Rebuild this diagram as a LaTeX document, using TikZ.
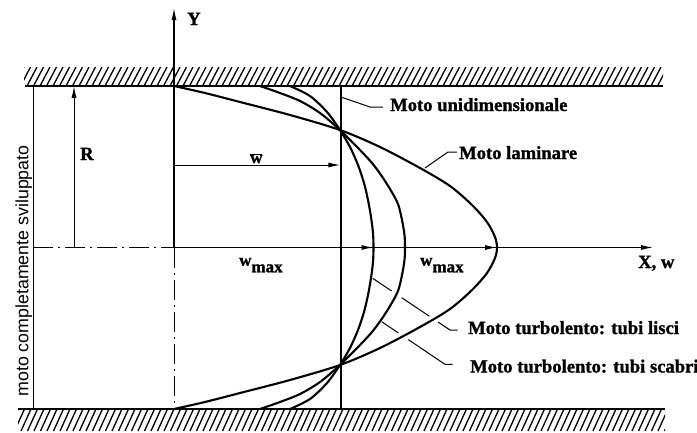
\documentclass[tikz,border=0pt]{standalone}
\usepackage{fontspec}
\setmainfont{Liberation Serif}[BoldFeatures={FakeBold=1.2}]
\setsansfont{Liberation Sans}
\usetikzlibrary{arrows.meta,calc}
\begin{document}
\begin{tikzpicture}[x=1pt,y=-1pt,
  wall/.style={line width=2pt},
  hatchline/.style={line width=1.3pt},
  curve/.style={line width=2.1pt, line join=round},
  axis/.style={line width=1.1pt},
  thinline/.style={line width=1pt},
  leader/.style={line width=1pt},
  dashdot/.style={line width=1pt, dash pattern=on 20pt off 5pt on 2pt off 5pt},
  arr/.style={-{Latex[length=12pt,width=5pt]}},
  lbl/.style={font=\fontsize{18.6}{20}\selectfont\bfseries, inner sep=0pt},
  sym/.style={font=\fontsize{17}{20}\selectfont\bfseries, inner sep=0pt},
]
\useasboundingbox (0,0) rectangle (697,432);

% hatching
\begin{scope}
  \clip (24,67) rectangle (663,86);
  \foreach \x in {14,20.5,...,670} \draw[hatchline] (\x,86) -- (\x+10,67);
\end{scope}
\begin{scope}
  \clip (18,409) rectangle (665,431);
  \foreach \x in {8,14.5,...,670} \draw[hatchline] (\x,431) -- (\x+10,409);
\end{scope}
\draw[wall] (25,86) -- (663,86);
\draw[wall] (18,409) -- (665,409);

% coordinates
\coordinate (O) at (174,247.5);
\coordinate (Ytop) at (174,8);
\coordinate (Ybot) at (174,409);
\coordinate (Xend) at (653,247.5);
\coordinate (Lft) at (33,247.5);
\coordinate (Lt) at (33,86);
\coordinate (Lb) at (33,409);
\coordinate (Rb) at (74,247.5);
\coordinate (Rt) at (74,86);
\coordinate (Ut) at (341,86);
\coordinate (Ub) at (341,409);
\coordinate (Wb) at (174,165);
\coordinate (We) at (340.3,165);
\coordinate (Av) at (373.5,247.5);
\coordinate (Lv) at (497,247.5);

% axes and lines
\draw[axis,arr] (O) -- (Ytop);
\draw[dashdot] (O) -- (Ybot);
\draw[dashdot] (Lft) -- (O);
\draw[axis,arr] (O) -- (Xend);
\draw[axis,arr] (O) -- (Av);
\draw[axis,arr] (O) -- (Lv);
\draw[thinline] (Lt) -- (Lb);
\draw[thinline,arr] (Rb) -- (Rt);
\draw[line width=1.4pt] (Ut) -- (Ub);
\draw[thinline,arr] (Wb) -- (We);

% profiles
\draw[curve] plot[smooth] coordinates {(174,86) (205,93) (240,102) (290,115) (340,130) (380,147) (420,168) (450,186) (472,205) (487,222) (495,237) (497,247.5) (495,258) (487,273) (472,290) (450,309) (420,327) (380,348) (340,365) (290,380) (240,393) (205,402) (174,409)};
\draw[curve] plot[smooth] coordinates {(290,86) (310,96) (327,112) (340,130) (350,147) (358,165) (364,183) (368,200) (371,217) (373,233) (373.5,247.5) (373,262) (371,278) (368,295) (364,312) (358,330) (350,348) (340,365) (327,383) (310,399) (290,409)};
\draw[curve] plot[smooth] coordinates {(260,86) (280,93) (300,101) (320,113) (340,130) (360,150) (372,163) (381,175) (390,189) (398,204) (402,220) (404.5,235) (405,247.5) (404.5,260) (402,275) (398,291) (390,306) (381,320) (372,332) (360,345) (340,365) (320,382) (300,394) (280,402) (260,409)};

% labels
\node[lbl, anchor=base west] (Y) at (187,25) {Y};
\node[lbl, anchor=base west] (R) at (80,160) {R};
\node[sym, anchor=base west] (wbar) at (250,163) {$\overline{\mbox{w}}$};
\node[sym, anchor=base west] (wm1) at (239,265.7) {w\raisebox{-6.6pt}{max}};
\node[sym, anchor=base west] (wm2) at (420,265.7) {w\raisebox{-6.6pt}{max}};
\node[lbl, anchor=base west] (X) at (638,268) {X, w};
\node[rotate=90, anchor=base, inner sep=0pt, font=\sffamily\fontsize{17.8}{20}\selectfont] (side) at (28.3,271) {moto completamente sviluppato};

\node[lbl, anchor=base west] (uni) at (390,111) {Moto unidimensionale};
\node[lbl, anchor=base west] (lam) at (459,159) {Moto laminare};
\node[lbl, anchor=base west] (lisci) at (468,334) {Moto turbolento: tubi lisci};
\node[lbl, anchor=base west] (scabri) at (470,372.5) {Moto turbolento: tubi scabri};

% leaders
\coordinate (uniS) at (341,97);
\coordinate (uniK) at (370,107);
\coordinate (uniE) at (383,107);
\draw[leader] (uniS) -- (uniK) -- (uniE);
\coordinate (lamS) at (425,168);
\coordinate (lamK) at (448,152);
\coordinate (lamE) at (457,152);
\draw[leader] (lamS) -- (lamK) -- (lamE);

\coordinate (liS) at (372.7,278.3);
\coordinate (liK) at (450,330);
\coordinate (liE) at (457.7,330);
\draw[leader] (liS) -- ($(liS)!0.245!(liK)$);
\draw[leader] ($(liS)!0.375!(liK)$) -- ($(liS)!0.733!(liK)$);
\draw[leader] ($(liS)!0.847!(liK)$) -- (liK) -- (liE);

\coordinate (scS) at (381.7,321.7);
\coordinate (scK) at (445,364.3);
\coordinate (scE) at (452.7,364.3);
\draw[leader] (scS) -- ($(scS)!0.262!(scK)$);
\draw[leader] ($(scS)!0.42!(scK)$) -- (scK) -- (scE);
\end{tikzpicture}
\end{document}
